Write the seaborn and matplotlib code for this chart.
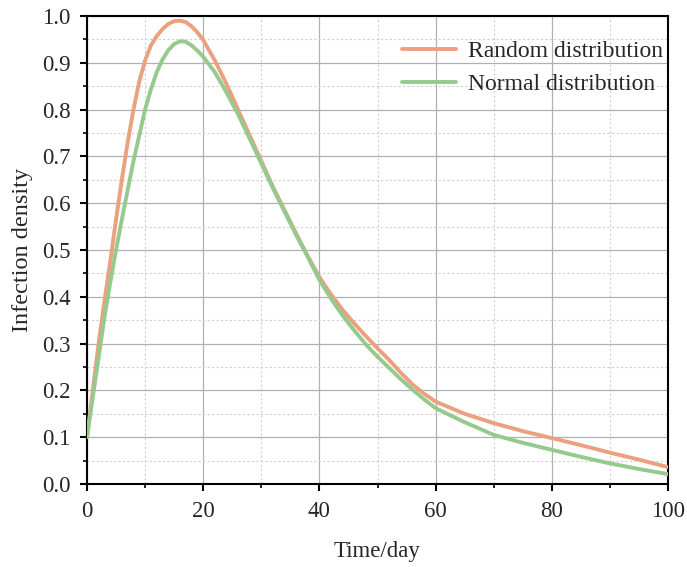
import matplotlib
matplotlib.use("Agg")
import matplotlib.pyplot as plt
import seaborn as sns
import pandas as pd
from matplotlib.ticker import MultipleLocator, FormatStrFormatter

days = [0, 1, 2, 3, 4, 5, 6, 7, 8, 9, 10, 11, 12, 13, 14, 15, 16, 17, 18, 19, 20,
        22, 24, 26, 28, 30, 32, 34, 36, 38, 40, 42, 44, 46, 48, 50, 52, 54, 56, 58,
        60, 65, 70, 75, 80, 85, 90, 95, 100]

random_dist = [0.10, 0.20, 0.30, 0.39, 0.475, 0.565, 0.65, 0.73, 0.80, 0.86, 0.905,
               0.937, 0.957, 0.972, 0.983, 0.989, 0.990, 0.987, 0.978, 0.965, 0.949,
               0.905, 0.855, 0.80, 0.745, 0.69, 0.635, 0.585, 0.535, 0.487, 0.442,
               0.405, 0.372, 0.343, 0.316, 0.29, 0.265, 0.238, 0.213, 0.193,
               0.176, 0.150, 0.130, 0.113, 0.098, 0.083, 0.067, 0.052, 0.036]

normal_dist = [0.10, 0.185, 0.27, 0.356, 0.43, 0.50, 0.565, 0.628, 0.69, 0.745, 0.80,
               0.843, 0.880, 0.907, 0.927, 0.940, 0.946, 0.945, 0.937, 0.926, 0.913,
               0.88, 0.837, 0.79, 0.738, 0.685, 0.632, 0.582, 0.532, 0.485, 0.436,
               0.396, 0.36, 0.328, 0.298, 0.272, 0.248, 0.224, 0.202, 0.181,
               0.162, 0.132, 0.105, 0.088, 0.073, 0.058, 0.044, 0.032, 0.021]

series_names = ["Random distribution", "Normal distribution"]
colors = ["#EBA07E", "#96C98E"]

df = pd.concat([
    pd.DataFrame({"Time/day": days, "Infection density": random_dist, "series": series_names[0]}),
    pd.DataFrame({"Time/day": days, "Infection density": normal_dist, "series": series_names[1]}),
], ignore_index=True)

sns.set_theme(style="white")
plt.rcParams["font.family"] = ["Liberation Serif", "DejaVu Serif"]

fig = plt.figure(figsize=(6.87, 5.67), dpi=100)
ax = fig.add_axes([0.1266, 0.1464, 0.9724 - 0.1266, 0.9718 - 0.1464])

sns.lineplot(data=df, x="Time/day", y="Infection density", hue="series",
             palette=dict(zip(series_names, colors)), linewidth=2.8, ax=ax,
             zorder=3)

ax.set_xlim(0, 100)
ax.set_ylim(0, 1.0)
ax.xaxis.set_major_locator(MultipleLocator(20))
ax.xaxis.set_minor_locator(MultipleLocator(10))
ax.yaxis.set_major_locator(MultipleLocator(0.1))
ax.yaxis.set_minor_locator(MultipleLocator(0.05))
ax.yaxis.set_major_formatter(FormatStrFormatter("%.1f"))

ax.grid(which="major", color="#b0b0b0", linewidth=0.9, linestyle="-", zorder=0)
ax.grid(which="minor", color="#cfcfcf", linewidth=0.8, linestyle=(0, (2, 2)), zorder=0)
ax.set_axisbelow(True)

for s in ax.spines.values():
    s.set_color("black")
    s.set_linewidth(1.5)
    s.set_visible(True)

ax.tick_params(which="major", direction="out", length=5, width=1.5, color="black",
               labelsize=16.5, pad=7, bottom=True, left=True, top=False, right=False)
ax.tick_params(which="minor", direction="out", length=3, width=1.2, color="black",
               bottom=True, left=True, top=False, right=False)

ax.set_xlabel("Time/day", fontsize=16.5, labelpad=14)
ax.set_ylabel("Infection density", fontsize=17.5, labelpad=6)

leg = ax.legend(loc="upper right", bbox_to_anchor=(1.012, 0.972), frameon=False,
                fontsize=17, handlelength=2.3, handletextpad=0.5, labelspacing=0.48,
                borderaxespad=0.1)
for line in leg.get_lines():
    line.set_linewidth(2.8)

fig.savefig("out.png", dpi=100)
